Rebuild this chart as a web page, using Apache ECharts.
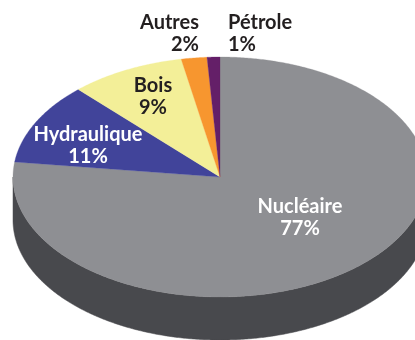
<!DOCTYPE html>
<html>
<head>
<meta charset="utf-8">
<script src="https://cdn.jsdelivr.net/npm/echarts@6/dist/echarts.min.js"></script>
<style>
  html, body { margin: 0; padding: 0; background: #ffffff; }
  #chart { width: 415px; height: 340px; }
</style>
</head>
<body>
<div id="chart"></div>
<script>
// Energy mix shares (%)
const categories = ['Nucléaire', 'Hydraulique', 'Bois', 'Autres', 'Pétrole'];
const shares = [77, 11, 9, 2, 1];

const sliceColors = ['#8e8f93', '#41449a', '#f3ef98', '#f7962f', '#641f68'];
const labelColors = ['#ffffff', '#ffffff', '#231f20', '#231f20', '#231f20'];
const sideColor = '#48494d';

// Disc geometry (elliptical top face with an extruded rim)
const disc = { cx: 220, cy: 177, rx: 207, ry: 120, depth: 43 };

// Label anchors, as offsets from the disc centre
const labelLayout = {
  'Nucléaire':   { dx: 80,   dy: 41,   align: 'center' },
  'Hydraulique': { dx: -132, dy: -31,  align: 'center' },
  'Bois':        { dx: -67,  dy: -80,  align: 'center' },
  'Autres':      { dx: -21,  dy: -143, align: 'right' },
  'Pétrole':     { dx: 8,    dy: -143, align: 'left' }
};

const total = shares.reduce((a, b) => a + b, 0);
const seriesData = [];
let acc = 0;
shares.forEach((v, i) => {
  seriesData.push({ name: categories[i], value: [v, acc] });
  acc += v;
});

// angle measured clockwise from 12 o'clock
function pt(theta, drop) {
  return [disc.cx + disc.rx * Math.sin(theta), disc.cy - disc.ry * Math.cos(theta) + (drop || 0)];
}
function arc(a0, a1, drop) {
  const pts = [];
  const n = Math.max(2, Math.ceil(Math.abs(a1 - a0) / (Math.PI / 360)));
  for (let k = 0; k <= n; k++) pts.push(pt(a0 + (a1 - a0) * k / n, drop));
  return pts;
}

function renderItem(params, api) {
  const i = params.dataIndex;
  const value = api.value(0);
  const start = api.value(1);
  const a0 = start / total * Math.PI * 2;
  const a1 = (start + value) / total * Math.PI * 2;
  const children = [];

  // visible front rim: the part of the slice lying in the lower half of the disc
  const s = Math.max(a0, Math.PI / 2), e = Math.min(a1, Math.PI * 1.5);
  if (e > s) {
    const top = arc(s, e, 0);
    const bottom = arc(e, s, disc.depth);
    children.push({
      type: 'polygon', z2: 1,
      shape: { points: top.concat(bottom) },
      style: { fill: sideColor, stroke: sideColor, lineWidth: 0.5 }
    });
  }

  // top face
  const face = [[disc.cx, disc.cy]].concat(arc(a0, a1, 0));
  children.push({
    type: 'polygon', z2: 2,
    shape: { points: face },
    style: { fill: sliceColors[i], stroke: sliceColors[i], lineWidth: 0.3 }
  });

  const lay = labelLayout[categories[i]];
  children.push({
    type: 'text', z2: 5,
    style: {
      text: categories[i] + '\n' + value + '%',
      x: disc.cx + lay.dx,
      y: disc.cy + lay.dy,
      fill: labelColors[i],
      fontFamily: 'Lato',
      fontWeight: 'bold',
      fontSize: 20,
      lineHeight: 22,
      align: lay.align,
      verticalAlign: 'middle'
    }
  });

  return { type: 'group', children: children };
}

const chart = echarts.init(document.getElementById('chart'), null, { renderer: 'canvas' });
chart.setOption({
  animation: false,
  backgroundColor: '#ffffff',
  series: [{
    type: 'custom',
    coordinateSystem: 'none',
    renderItem: renderItem,
    data: seriesData
  }]
});
</script>
</body>
</html>
